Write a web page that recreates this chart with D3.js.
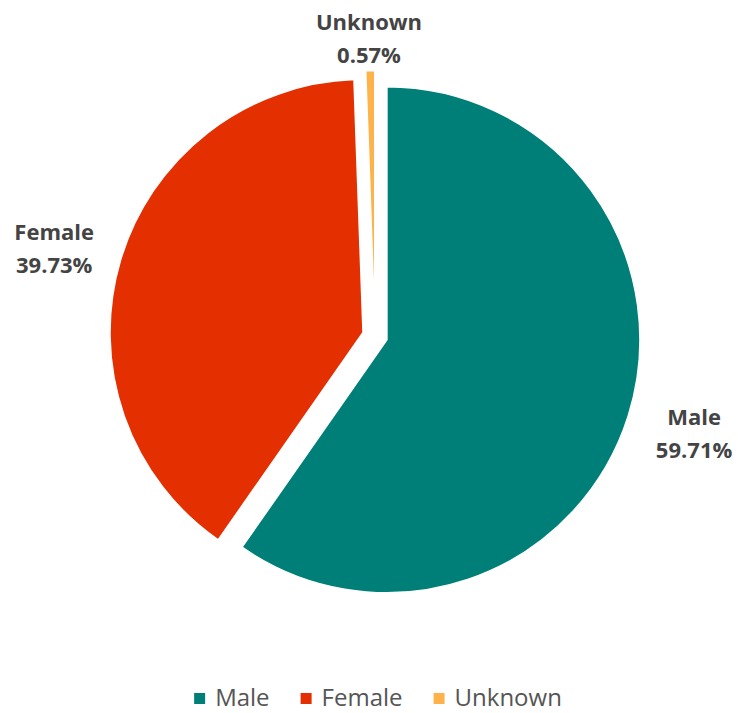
<!DOCTYPE html>
<html>
<head>
<meta charset="utf-8">
<script src="https://cdn.jsdelivr.net/npm/d3@7"></script>
<style>
  body { margin: 0; background: #fff; font-family: "Open Sans", "Noto Sans", sans-serif; }
</style>
</head>
<body>
<svg id="chart"></svg>
<script>
    const W = 738, H = 713;

    // data
    const categories = ["Male", "Female", "Unknown"];
    const values = [59.71, 39.73, 0.57];
    const colors = ["#007f78", "#e42f00", "#fdb34a"];

    const cx = 375, cy = 336, radius = 253, explode = 12.5;

    const svg = d3.select("#chart")
      .attr("width", W)
      .attr("height", H);

    const data = categories.map((c, i) => ({ name: c, value: values[i], color: colors[i] }));

    const pie = d3.pie().sort(null).value(d => d.value);
    const arc = d3.arc().innerRadius(0).outerRadius(radius);
    const arcs = pie(data);

    const g = svg.append("g").attr("transform", `translate(${cx},${cy})`);

    // offset each slice along its mid angle
    const mid = d => (d.startAngle + d.endAngle) / 2;

    g.selectAll("path.slice")
      .data(arcs)
      .enter().append("path")
      .attr("class", "slice")
      .attr("d", arc)
      .attr("fill", d => d.data.color)
      .attr("stroke", "#fff")
      .attr("stroke-width", 1.5)
      .attr("transform", d => `translate(${Math.sin(mid(d)) * explode},${-Math.cos(mid(d)) * explode})`);

    // labels outside the pie
    const labelR = 287, halfW = 35, halfH = 25;
    const labels = g.selectAll("text.label")
      .data(arcs)
      .enter().append("text")
      .attr("class", "label")
      .attr("text-anchor", "middle")
      .attr("font-size", 22)
      .attr("font-weight", "bold")
      .attr("fill", "#444")
      .attr("transform", d => {
        const a = mid(d);
        const c = Math.abs(Math.cos(a));
        const x = Math.sin(a) * (explode + labelR + halfW);
        const y = -Math.cos(a) * (explode + labelR + halfH * (1 - c));
        return `translate(${x},${y})`;
      });
    labels.append("tspan").attr("x", 0).attr("dy", "-0.3em").text(d => d.data.name);
    labels.append("tspan").attr("x", 0).attr("dy", "1.5em").text(d => d.data.value.toFixed(2) + "%");

    // legend
    const legend = svg.append("g").attr("transform", "translate(0,698)");
    const item = legend.selectAll("g")
      .data(data)
      .enter().append("g");
    item.append("rect")
      .attr("width", 11).attr("height", 11).attr("y", -5)
      .attr("fill", d => d.color);
    item.append("text")
      .attr("x", 21).attr("dy", "0.35em")
      .attr("font-size", 24)
      .attr("fill", "#555")
      .text(d => d.name);

    // lay out legend items in a centered row
    let xpos = 0;
    const gap = 31;
    item.each(function () {
      const w = this.getBBox().width;
      d3.select(this).attr("transform", `translate(${xpos},0)`);
      xpos += w + gap;
    });
    const total = xpos - gap;
    legend.attr("transform", `translate(${(W - total) / 2 + 9},698)`);
</script>
</body>
</html>
